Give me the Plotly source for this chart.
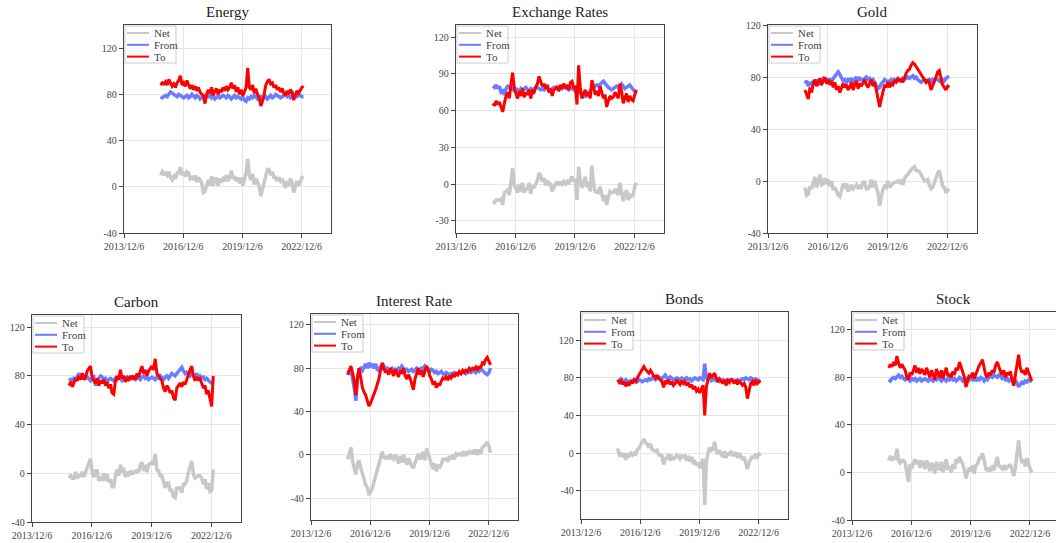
import pandas as pd
import plotly.graph_objects as go

START = "2015-10-15"
END = "2023-01-10"

panel_titles = ["Energy", "Exchange Rates", "Gold", "Carbon", "Interest Rate", "Bonds", "Stock"]
series_names = ["Net", "From", "To"]

# ---------------- Energy ----------------
energy_net = [10, 13, 11,
              12, 10, 13, 8, 6, 9, 7, 12, 12, 17, 10, 13,
              9, 13, 12, 7, 8, 6, 10, 4, 8, 6, 3, -5,
              -4, 1, 6, 1, 9, 1, 7, 7, 1, 7, 4, 7,
              5, 10, 5, 8, 14, 7, 9, 5, 8, 3, 8, 1,
              7, 12, 24, 10, 6, 11, 2, 7, 4, 0, -8, -2,
              3, 10, 15, 15, 10, 13, 8, 8, 5, 8, 5, 7,
              2, -1, 5, 1, 7, 4, -5, 1, 5, 1, 5, 8,
              9]
energy_from = [78, 77, 78,
               79, 78, 80, 82, 81, 80, 79, 78, 80, 79, 78, 77,
               78, 79, 77, 78, 80, 78, 77, 79, 78, 76, 77, 78,
               77, 79, 78, 80, 77, 78, 76, 78, 79, 77, 78, 79,
               78, 77, 79, 78, 76, 78, 79, 77, 78, 77, 76, 78,
               75, 74, 77, 76, 78, 77, 79, 78, 76, 77, 78, 76,
               77, 78, 76, 78, 79, 77, 78, 80, 79, 78, 77, 78,
               79, 80, 78, 79, 77, 78, 80, 79, 78, 80, 79, 78,
               78]
energy_to = [88, 90, 89,
             91, 88, 93, 90, 87, 89, 86, 90, 92, 96, 88, 90,
             87, 92, 89, 85, 88, 84, 87, 83, 86, 82, 80, 79,
             72, 80, 84, 81, 86, 79, 83, 85, 80, 84, 82, 86,
             83, 87, 84, 86, 90, 85, 88, 82, 86, 80, 84, 79,
             82, 86, 103, 86, 84, 88, 81, 85, 80, 77, 70, 74,
             80, 88, 91, 93, 89, 90, 86, 88, 84, 86, 82, 85,
             81, 79, 83, 80, 84, 82, 75, 80, 83, 81, 84, 86,
             87]

# ---------------- Exchange Rates ----------------
exchange_net = [-14, -15, -13,
                -13, -13, -12, -17, -7, -6, -5, -9, 4, 13, -1, -4,
                -7, 0, -6, 1, -7, -4, -4, 1, -8, -1, -3, 0,
                3, 9, 7, 2, 5, -1, 3, -1, 1, -6, -2, 0,
                2, -1, 2, 0, 2, 0, 2, 0, 4, 6, 2, 4,
                -13, 14, 3, -3, 0, 6, -1, 0, -6, 15, 1, -7,
                -5, -8, -2, -8, -14, -9, -17, -11, -6, -7, -7, -4,
                -7, -9, 1, -6, -14, -8, -5, -13, -9, -10, -9, -2,
                1]
exchange_from = [80, 79, 81,
                 78, 80, 75, 76, 73, 78, 80, 79, 78, 77, 79, 78,
                 77, 76, 78, 77, 78, 79, 77, 76, 78, 77, 78, 79,
                 79, 78, 77, 78, 77, 79, 78, 76, 77, 78, 79, 78,
                 78, 77, 79, 78, 80, 79, 78, 77, 79, 78, 77, 76,
                 78, 80, 75, 73, 74, 71, 73, 75, 76, 78, 79, 80,
                 81, 80, 82, 83, 84, 82, 80, 79, 78, 77, 78, 79,
                 80, 79, 81, 82, 80, 78, 79, 80, 81, 79, 77, 75,
                 74]
exchange_to = [66, 64, 68,
               65, 67, 63, 59, 66, 72, 75, 70, 82, 91, 78, 74,
               70, 76, 72, 78, 71, 75, 73, 77, 70, 76, 75, 79,
               82, 88, 84, 80, 82, 78, 81, 75, 78, 72, 77, 78,
               80, 76, 81, 78, 82, 79, 80, 77, 83, 84, 79, 80,
               65, 97, 78, 70, 74, 77, 72, 75, 70, 85, 80, 73,
               76, 72, 80, 75, 70, 73, 63, 68, 72, 70, 71, 75,
               73, 70, 82, 76, 66, 70, 74, 67, 72, 69, 68, 73,
               77]

# ---------------- Gold ----------------
gold_net = [-5, -11, -10,
            -4, -6, -2, 3, -5, 0, 5, -3, -2, 2, -1, 0,
            -4, 0, -7, -5, -9, -11, -12, -8, -2, -6, -2, -8,
            -5, -3, -6, -4, -3, -6, -4, -5, -1, -1, -6, -6,
            -4, 1, -5, 0, -4, -9, -19, -12, -6, -4, -5, 0,
            -5, -3, -2, -1, -1, 0, -1, 1, -3, 2, 4, 5,
            7, 9, 10, 11, 8, 8, 7, 5, 3, 0, 0, 1,
            -3, -6, -5, -1, 1, 6, 8, 3, -4, -5, -9, -7,
            -8]
gold_from = [75, 77, 73,
             76, 74, 77, 75, 78, 76, 74, 77, 79, 78, 76, 78,
             78, 77, 79, 81, 83, 84, 82, 79, 77, 78, 76, 78,
             77, 79, 76, 78, 80, 77, 79, 78, 77, 79, 80, 78,
             79, 77, 78, 76, 74, 71, 72, 75, 76, 78, 77, 76,
             77, 78, 76, 78, 77, 79, 78, 77, 79, 78, 79, 80,
             79, 80, 81, 79, 80, 78, 77, 76, 77, 78, 76, 77,
             78, 76, 78, 77, 79, 78, 77, 76, 78, 77, 79, 80,
             80]
gold_to = [70, 66, 63,
           72, 68, 75, 78, 73, 76, 79, 74, 77, 80, 75, 78,
           74, 77, 72, 76, 70, 73, 68, 71, 75, 72, 74, 70,
           72, 76, 70, 74, 77, 71, 75, 73, 76, 78, 74, 72,
           75, 78, 73, 76, 70, 62, 57, 63, 70, 74, 72, 76,
           72, 75, 74, 77, 76, 79, 77, 78, 76, 80, 83, 85,
           86, 89, 91, 90, 88, 86, 84, 81, 80, 78, 76, 78,
           75, 70, 73, 76, 80, 84, 85, 79, 74, 72, 70, 73,
           72]

# ---------------- Carbon ----------------
carbon_net = [-4, -2, -4,
              -4, 1, -4, -2, -2, 1, -3, 1, 5, 9, 12, 0,
              -3, 2, 2, -6, -4, -5, 0, -6, -1, -7, -5, -11,
              -11, -2, 3, -2, 7, 2, 3, -3, 0, -1, 2, -1,
              2, 0, 3, 1, 7, 9, 2, 7, 1, 7, 8, 9,
              7, 16, 3, 2, -2, -2, -7, -12, -8, -8, -14, -14,
              -19, -20, -12, -12, -12, -16, -9, -9, -6, 1, 5, 10,
              -1, -4, -3, -2, -2, -4, -9, -5, -13, -8, -15, -14,
              3]
carbon_from = [76, 77, 75,
               78, 77, 80, 82, 79, 81, 80, 78, 79, 77, 76, 78,
               79, 72, 76, 78, 80, 79, 77, 78, 76, 77, 78, 77,
               76, 78, 77, 79, 78, 76, 77, 78, 79, 77, 78, 79,
               78, 77, 79, 78, 77, 79, 80, 78, 79, 77, 78, 79,
               78, 77, 79, 78, 80, 78, 77, 79, 80, 78, 80, 82,
               81, 80, 82, 84, 86, 87, 84, 82, 83, 81, 80, 82,
               81, 80, 82, 79, 80, 78, 79, 77, 78, 76, 75, 74,
               75]
carbon_to = [72, 75, 71,
             74, 78, 76, 80, 77, 82, 77, 79, 84, 86, 88, 78,
             76, 74, 78, 72, 76, 74, 77, 72, 75, 70, 73, 66,
             65, 76, 80, 77, 85, 78, 80, 75, 79, 76, 80, 78,
             80, 77, 82, 79, 84, 88, 82, 85, 80, 84, 86, 88,
             85, 94, 82, 80, 78, 76, 70, 67, 72, 70, 66, 68,
             62, 60, 70, 72, 74, 71, 75, 73, 77, 82, 85, 88,
             80, 76, 79, 77, 78, 74, 70, 72, 65, 68, 60, 55,
             80]

# ---------------- Interest Rate ----------------
interest_net = [-4, 2, 7,
                -6, -12, -18, -8, -5, -12, -16, -22, -28, -30, -37, -34,
                -31, -25, -20, -14, -8, -3, 3, -2, -3, -2, -4, 1,
                -3, -4, 0, -2, -8, -1, -7, 0, -5, -9, -3, -7,
                -10, -12, -8, -4, 1, -4, -2, 3, -5, 6, 1, -4,
                -9, -13, -8, -15, -9, -12, -9, -4, -4, -4, -6, -1,
                -4, 0, -4, 1, 0, 1, 0, 2, -1, 3, 1, 3,
                2, 3, 1, 5, 0, 5, 1, 7, 8, 10, 12, 8,
                2]
interest_from = [78, 76, 79,
                 72, 62, 50, 70, 79, 80, 78, 82, 84, 80, 85, 82,
                 83, 80, 84, 79, 78, 81, 80, 82, 79, 80, 78, 79,
                 80, 77, 79, 78, 80, 79, 82, 80, 78, 79, 77, 78,
                 79, 77, 78, 80, 79, 78, 80, 79, 82, 80, 78, 77,
                 79, 78, 76, 77, 75, 76, 77, 75, 74, 76, 75, 74,
                 75, 74, 76, 75, 74, 76, 75, 76, 77, 75, 76, 77,
                 76, 77, 78, 76, 78, 77, 79, 78, 76, 75, 74, 76,
                 80]
interest_to = [74, 78, 82,
               76, 68, 55, 72, 80, 70, 62, 58, 55, 50, 45, 48,
               52, 55, 60, 65, 70, 78, 85, 80, 76, 78, 74, 80,
               77, 73, 79, 76, 72, 78, 75, 80, 73, 70, 74, 71,
               66, 60, 70, 76, 80, 74, 78, 72, 77, 82, 79, 73,
               70, 65, 68, 62, 66, 64, 68, 71, 70, 72, 69, 73,
               71, 74, 72, 76, 74, 77, 75, 78, 76, 78, 77, 80,
               78, 80, 79, 81, 78, 82, 80, 85, 84, 88, 90, 86,
               83]

# ---------------- Bonds ----------------
bonds_net = [5, -2, -1,
             -4, 0, -7, -2, -3, 0, -2, 0, -1, 4, 5, 9,
             12, 15, 11, 10, 6, 10, 4, 3, 2, 3, -2, -2,
             -3, -12, -6, -5, -1, -8, -4, -6, -5, -2, -3, -6,
             -3, -4, -3, -8, -3, -9, -4, -10, -9, -13, -10, -16,
             -11, -6, -55, -10, 0, 6, 3, 4, 12, 3, -1, 3,
             -1, -4, 2, -5, -1, -1, 2, -2, -2, 1, -5, 0,
             -3, -7, -4, -10, -17, -10, -6, -3, -6, -1, -4, -1,
             -3]
bonds_from = [78, 77, 79,
              77, 76, 78, 77, 75, 77, 76, 78, 77, 76, 78, 77,
              76, 77, 78, 77, 79, 78, 80, 79, 78, 80, 81, 80,
              79, 81, 83, 80, 79, 81, 80, 78, 79, 80, 78, 79,
              80, 78, 79, 80, 78, 79, 77, 78, 80, 79, 78, 80,
              79, 78, 95, 80, 78, 79, 77, 78, 79, 77, 78, 76,
              77, 78, 76, 77, 78, 76, 77, 78, 76, 77, 78, 77,
              78, 79, 78, 80, 79, 78, 80, 79, 78, 79, 78, 77,
              78]
bonds_to = [78, 75, 77,
            73, 76, 71, 75, 72, 77, 74, 78, 76, 80, 83, 86,
            88, 92, 89, 87, 85, 88, 84, 82, 80, 83, 79, 78,
            76, 70, 77, 75, 78, 73, 76, 72, 74, 78, 75, 73,
            77, 74, 76, 72, 75, 70, 73, 68, 71, 66, 68, 64,
            68, 72, 40, 70, 78, 85, 80, 82, 85, 80, 77, 79,
            76, 74, 78, 72, 77, 75, 79, 76, 74, 78, 73, 77,
            75, 72, 74, 70, 58, 68, 74, 76, 72, 78, 74, 76,
            75]

# ---------------- Stock ----------------
stock_net = [10, 14, 10,
             13, 11, 20, 10, 8, 10, 10, 8, 0, -8, 7, 3,
             8, 11, 7, 10, 4, 10, 7, 3, 10, 7, 1, 8,
             5, -1, 9, 4, 2, 9, 0, 6, 11, 2, 5, 0,
             7, 3, 11, 8, 13, 10, 7, 2, -5, 1, 4, 1,
             6, -1, 6, 7, 12, 12, 16, 11, 3, 2, 4, 1,
             6, 2, 9, 13, 6, 4, 3, 6, 2, 5, 5, 7,
             1, -3, 4, 15, 27, 14, 8, 11, 5, 12, 6, 3,
             0]
stock_from = [78, 77, 79,
              80, 79, 81, 82, 80, 81, 79, 78, 80, 78, 77, 79,
              78, 79, 77, 78, 79, 77, 78, 79, 78, 77, 79, 78,
              77, 79, 78, 80, 78, 77, 79, 78, 77, 79, 78, 80,
              78, 79, 77, 78, 80, 79, 77, 78, 79, 77, 78, 79,
              78, 80, 77, 79, 78, 80, 79, 77, 79, 78, 80, 81,
              80, 82, 81, 80, 82, 81, 79, 80, 78, 79, 77, 78,
              77, 76, 78, 75, 72, 74, 76, 75, 77, 76, 78, 77,
              77]
stock_to = [88, 91, 89,
            93, 90, 98, 92, 88, 91, 89, 86, 80, 78, 84, 82,
            86, 90, 84, 88, 83, 87, 85, 82, 88, 84, 80, 86,
            82, 78, 87, 84, 80, 86, 79, 84, 88, 81, 83, 80,
            85, 82, 88, 86, 93, 89, 84, 80, 72, 78, 82, 80,
            84, 79, 83, 86, 90, 92, 95, 88, 82, 80, 84, 82,
            86, 84, 90, 93, 88, 85, 82, 86, 80, 84, 82, 85,
            78, 73, 82, 90, 99, 88, 84, 86, 82, 88, 84, 80,
            77]

panel_data = [
    (energy_net, energy_from, energy_to),
    (exchange_net, exchange_from, exchange_to),
    (gold_net, gold_from, gold_to),
    (carbon_net, carbon_from, carbon_to),
    (interest_net, interest_from, interest_to),
    (bonds_net, bonds_from, bonds_to),
    (stock_net, stock_from, stock_to),
]

xtick_vals = ["2013-12-06", "2016-12-06", "2019-12-06", "2022-12-06"]
xtick_text = ["2013/12/6", "2016/12/6", "2019/12/6", "2022/12/6"]

ytick_sets = [
    [-40, 0, 40, 80, 120],
    [-30, 0, 30, 60, 90, 120],
    [-40, 0, 40, 80, 120],
    [-40, 0, 40, 80, 120],
    [-40, 0, 40, 80, 120],
    [-40, 0, 40, 80, 120],
    [-40, 0, 40, 80, 120],
]
y_ranges = [[-40, 140], [-40, 130], [-40, 120], [-40, 130], [-60, 130], [-70, 150], [-40, 135]]

# ---------------- layout (pixel boxes of each panel) ----------------
W, H = 1056, 543
boxes = [  # x0, x1, y_top, y_bottom in pixels
    (124, 331, 25, 233),
    (456, 664, 25, 233),
    (768, 977, 25, 233),
    (32, 241, 315, 522),
    (311, 518, 314, 520),
    (581, 788, 312, 519),
    (852, 1056, 312, 520),
]
x_range_ends = ["2024-06-01"] * 6 + ["2024-04-01"]

colors = {"Net": "#c8c8c8", "From": "#6b7dff", "To": "#ff0000"}
widths = {"Net": 3.5, "From": 3.5, "To": 3}

TICK_FONT = dict(family="Liberation Serif", size=10, color="#444444")
TITLE_FONT = dict(family="Liberation Serif", size=15, color="#222222")
LEG_FONT = dict(family="Liberation Serif", size=11, color="#444444")

fig = go.Figure()
annotations = []
shapes = []
layout = dict(
    width=W, height=H,
    margin=dict(l=0, r=0, t=0, b=0, pad=0, autoexpand=False),
    paper_bgcolor="white", plot_bgcolor="white",
    showlegend=False,
)

def px_x(p):
    return p / W

def px_y(p):
    return 1 - p / H

for i, (title, series) in enumerate(zip(panel_titles, panel_data)):
    k = i + 1
    sfx = "" if k == 1 else str(k)
    xa, ya = "x" + sfx, "y" + sfx
    x0, x1, yt, yb = boxes[i]
    dx = [px_x(x0), px_x(x1)]
    dy = [px_y(yb), px_y(yt)]
    for name, vals in zip(series_names, series):
        dates = pd.date_range(START, END, periods=len(vals))
        fig.add_trace(go.Scatter(
            x=dates, y=vals, mode="lines", name=name,
            line=dict(color=colors[name], width=widths[name]),
            xaxis=xa, yaxis=ya,
        ))
    yt_vals = ytick_sets[i]
    common = dict(
        showgrid=True, gridcolor="#e6e6e6", gridwidth=1,
        showline=True, linecolor="#444444", linewidth=1.4, mirror=True,
        ticks="outside", ticklen=4, tickcolor="#444444", tickfont=TICK_FONT,
        zeroline=False, automargin=False,
    )
    layout["xaxis" + sfx] = dict(
        domain=dx, anchor=ya, type="date",
        range=["2013-12-06", x_range_ends[i]],
        tickmode="array", tickvals=xtick_vals, ticktext=xtick_text, **common,
    )
    layout["yaxis" + sfx] = dict(
        domain=dy, anchor=xa, range=y_ranges[i],
        tickmode="array", tickvals=yt_vals, ticktext=[str(v) for v in yt_vals], **common,
    )
    # compact legend box in the upper-left corner of each panel
    shapes.append(dict(
        type="rect", xref="paper", yref="paper", layer="above",
        x0=px_x(x0 + 1), x1=px_x(x0 + 52), y0=px_y(yt + 38), y1=px_y(yt + 1),
        line=dict(color="#cccccc", width=1), fillcolor="rgba(255,255,255,0.8)",
    ))
    for r, name in enumerate(series_names):
        yy = yt + 8 + r * 11.8
        shapes.append(dict(
            type="line", xref="paper", yref="paper", layer="above",
            x0=px_x(x0 + 3), x1=px_x(x0 + 25), y0=px_y(yy), y1=px_y(yy),
            line=dict(color=colors[name], width=2),
        ))
        annotations.append(dict(
            text=name, xref="paper", yref="paper", x=px_x(x0 + 28), y=px_y(yy),
            xanchor="left", yanchor="middle", showarrow=False, font=LEG_FONT,
        ))
    annotations.append(dict(
        text=title, xref="paper", yref="paper",
        x=(dx[0] + dx[1]) / 2, y=dy[1] + 13 / H,
        xanchor="center", yanchor="middle", showarrow=False, font=TITLE_FONT,
    ))

layout["annotations"] = annotations
layout["shapes"] = shapes
fig.update_layout(**layout)
fig.write_html(
    "out.html",
    config={"displayModeBar": False},
    post_script="document.body.style.margin='0';document.body.style.overflow='hidden';",
)
